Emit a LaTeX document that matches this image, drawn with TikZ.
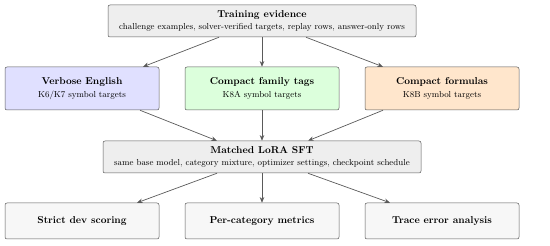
\documentclass[tikz,border=0pt]{standalone}
\usepackage{amsmath,amssymb}
\usepackage{tikz}
\usetikzlibrary{arrows.meta,positioning,calc}
\definecolor{boxGray}{RGB}{238,238,238}
\definecolor{boxBlue}{RGB}{224,224,255}
\definecolor{boxGreen}{RGB}{220,255,220}
\definecolor{boxOrange}{RGB}{255,230,204}
\definecolor{boxLight}{RGB}{247,247,247}
\definecolor{lineGray}{RGB}{90,90,90}
\newcommand{\subsz}{\fontsize{8.7}{10}\selectfont}

\begin{document}
\begin{tikzpicture}[x=1pt,y=1pt,font=\subsz,>={Stealth[length=2mm,width=1.6mm]},
        b/.style={draw=lineGray,line width=0.5pt,rounded corners=2pt,align=center,inner sep=2pt},
        ar/.style={->,lineGray,line width=0.7pt}]
        \useasboundingbox (0,0) rectangle (550,-246);
        \node[b,fill=boxGray,minimum width=308pt,minimum height=32pt] (ev) at (262,-21)
            {\textbf{\normalsize Training evidence}\\[0.8mm]challenge examples, solver-verified targets, replay rows, answer-only rows};
        \node[b,fill=boxBlue,minimum width=154pt,minimum height=43pt] (ve) at (82,-88.5)
            {\textbf{\normalsize Verbose English}\\[1.2mm]K6/K7 symbol targets};
        \node[b,fill=boxGreen,minimum width=154pt,minimum height=43pt] (cf) at (262,-88.5)
            {\textbf{\normalsize Compact family tags}\\[1.2mm]K8A symbol targets};
        \node[b,fill=boxOrange,minimum width=154pt,minimum height=43pt] (fo) at (442,-88.5)
            {\textbf{\normalsize Compact formulas}\\[1.2mm]K8B symbol targets};
        \node[b,fill=boxGray,minimum width=318pt,minimum height=32pt] (sft) at (262,-157)
            {\textbf{\normalsize Matched LoRA SFT}\\[0.8mm]same base model, category mixture, optimizer settings, checkpoint schedule};
        \node[b,fill=boxLight,minimum width=154pt,minimum height=36pt] (sd) at (82,-221) {\textbf{\normalsize Strict dev scoring}};
        \node[b,fill=boxLight,minimum width=154pt,minimum height=36pt] (pc) at (262,-221) {\textbf{\normalsize Per-category metrics}};
        \node[b,fill=boxLight,minimum width=154pt,minimum height=36pt] (te) at (442,-221) {\textbf{\normalsize Trace error analysis}};
        \draw[ar] ([xshift=-43pt]ev.south) -- ([xshift=61pt]ve.north);
        \draw[ar] (ev) -- (cf);
        \draw[ar] ([xshift=44pt]ev.south) -- ([xshift=-59pt]fo.north);
        \draw[ar] ([xshift=58pt]ve.south) -- ([xshift=-45pt]sft.north);
        \draw[ar] (cf) -- (sft);
        \draw[ar] ([xshift=-59pt]fo.south) -- ([xshift=46pt]sft.north);
        \draw[ar] ([xshift=-45pt]sft.south) -- ([xshift=55pt]sd.north);
        \draw[ar] (sft) -- (pc);
        \draw[ar] ([xshift=46pt]sft.south) -- ([xshift=-52pt]te.north);
      \end{tikzpicture}
\end{document}
